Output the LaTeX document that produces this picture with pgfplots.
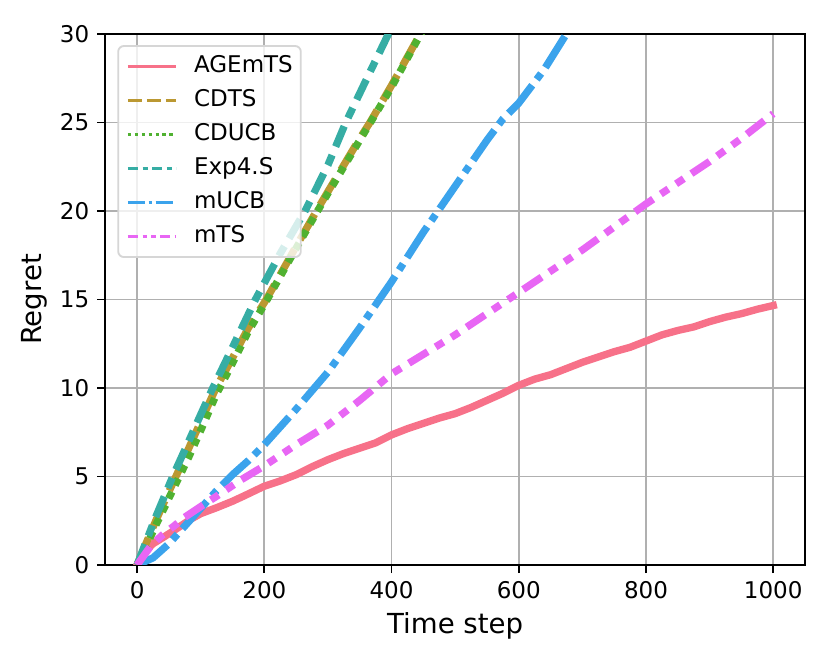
\documentclass[border=0pt]{standalone}
\usepackage{fontspec}
\setmainfont{DejaVu Sans}
\usepackage{pgfplots}
\pgfplotsset{compat=1.18}
\definecolor{c1}{HTML}{F77189}
\definecolor{c2}{HTML}{BB9832}
\definecolor{c3}{HTML}{50B131}
\definecolor{c4}{HTML}{36ADA4}
\definecolor{c5}{HTML}{3BA3EC}
\definecolor{c6}{HTML}{E866F4}
\definecolor{gridc}{HTML}{B0B0B0}
\begin{document}
\begin{tikzpicture}
\begin{axis}[
  name=ax,
  scale only axis,
  width=304.3pt, height=230.9pt,
  xmin=-50, xmax=1050, ymin=0, ymax=30,
  xtick={0,200,...,1000}, ytick={0,5,...,30},
  /pgf/number format/assume math mode=true,
  /pgf/number format/set thousands separator={},
  tick label style={font=\fontsize{10}{12}\selectfont},
  tick pos=left, tick align=outside, major tick length=3.5pt,
  tick style={black, line width=0.8pt},
  axis line style={line width=0.8pt},
  grid=major, major grid style={gridc, line width=0.8pt},
  xlabel={Time step}, ylabel={Regret},
  label style={font=\fontsize{12}{14}\selectfont},
  x label style={at={(axis description cs:0.5,0)}, anchor=base, yshift=-30pt},
  y label style={at={(axis description cs:0,0.5)}, anchor=center, yshift=30.8pt},
  legend style={at={(0,1)}, anchor=north west, xshift=5.2pt, yshift=-4.8pt,
    draw=black!16, line width=0.8pt, rounded corners=2.5pt,
    fill=white, fill opacity=0.8, text opacity=1, draw opacity=1,
    font=\fontsize{10}{12}\selectfont,
    inner xsep=3.5pt, inner ysep=1.5pt, row sep=0pt,
    nodes={inner xsep=0pt, inner ysep=2.4pt, text height=7.5pt, text depth=2.5pt},
    /tikz/every odd column/.append style={column sep=7pt}},
  legend cell align=left,
  legend image code/.code={\draw[#1] (0pt,0pt) -- (21pt,0pt);},
  every axis plot/.append style={line width=3.2pt, line join=round},
]
\addlegendimage{c1, line width=1.5pt, solid}
\addlegendentry{AGEmTS}
\addlegendimage{c2, line width=1.5pt, dash pattern=on 6pt off 2.25pt}
\addlegendentry{CDTS}
\addlegendimage{c3, line width=1.5pt, dash pattern=on 1.5pt off 1.5pt}
\addlegendentry{CDUCB}
\addlegendimage{c4, line width=1.5pt, dash pattern=on 4.5pt off 1.875pt on 2.25pt off 1.875pt}
\addlegendentry{Exp4.S}
\addlegendimage{c5, line width=1.5pt, dash pattern=on 7.5pt off 1.5pt on 1.5pt off 1.5pt}
\addlegendentry{mUCB}
\addlegendimage{c6, line width=1.5pt, dash pattern=on 4.5pt off 1.875pt on 1.875pt off 1.875pt on 1.875pt off 1.875pt}
\addlegendentry{mTS}

% AGEmTS
\addplot[c1, solid, line cap=rect, forget plot] coordinates {
(0,0) (10,0.65) (25,1.2) (43,1.6) (60,2.0) (85,2.6) (100,2.9) (126,3.25)
(150,3.6) (168,3.9) (200,4.45) (225,4.75) (250,5.1) (275,5.55) (300,5.95)
(325,6.3) (350,6.6) (375,6.9) (400,7.35) (425,7.7) (450,8.0) (475,8.3)
(500,8.55) (525,8.9) (550,9.3) (575,9.7) (600,10.15) (625,10.5) (650,10.75)
(675,11.1) (700,11.45) (725,11.75) (750,12.05) (775,12.3) (800,12.65)
(825,13.0) (850,13.25) (875,13.45) (900,13.75) (925,14.0) (950,14.2)
(975,14.45) (1000,14.66)
};
% CDTS
\addplot[c2, dash pattern=on 12.8pt off 4.8pt, forget plot] coordinates {
(0,0) (15,1.3) (30,2.55) (45,3.75) (61,5.0) (80,6.5) (100,8.1) (124,10.0)
(150,11.7) (175,13.4) (203,15.0) (250,18.0) (282,20.0) (300,21.1) (325,22.6)
(350,24.1) (366,25.0) (400,27.1) (445,30.0) (470,31.5)
};
% CDUCB
\addplot[c3, dash pattern=on 3.2pt off 3.2pt, forget plot] coordinates {
(0,0) (15,1.1) (30,2.3) (45,3.4) (61,4.6) (80,6.0) (100,7.6) (124,9.6)
(150,11.4) (175,13.2) (203,14.9) (250,17.9) (282,19.9) (300,21.0) (325,22.5)
(350,24.0) (366,24.95) (400,27.0) (445,29.95) (470,31.5)
};
% Exp4.S
\addplot[c4, dash pattern=on 9.6pt off 4pt on 4.8pt off 4pt, forget plot] coordinates {
(0,0) (15,1.4) (28,2.6) (56,5.0) (80,6.9) (100,8.5) (119,10.0) (150,12.3)
(186,15.0) (225,17.6) (264,20.0) (300,22.6) (328,25.0) (360,27.4) (395,30.0) (420,31.8)
};
% mUCB
\addplot[c5, dash pattern=on 16pt off 3.2pt on 3.2pt off 3.2pt, forget plot] coordinates {
(0,0) (25,0.4) (50,1.2) (75,2.2) (100,3.2) (125,4.2) (150,5.1) (175,5.9)
(200,6.8) (250,8.8) (300,10.9) (350,13.4) (400,16.0) (450,18.8) (500,21.4)
(550,24.0) (575,25.2) (600,26.1) (640,28.0) (680,30.3) (700,31.4)
};
% mTS
\addplot[c6, dash pattern=on 9.6pt off 4pt on 4pt off 4pt on 4pt off 4pt, forget plot] coordinates {
(0,0) (10,0.5) (22,1.1) (40,1.7) (58,2.2) (75,2.7) (100,3.3) (132,4.05)
(163,4.8) (200,5.6) (250,6.8) (300,7.9) (350,9.3) (400,10.8) (450,11.9)
(500,13.0) (550,14.2) (600,15.4) (650,16.6) (700,17.8) (750,19.1)
(800,20.4) (850,21.6) (900,22.8) (950,24.1) (1000,25.5)
};
\end{axis}
\pgfresetboundingbox
\path[use as bounding box] ([shift={(-45.8pt,-43pt)}]ax.south west) rectangle ([shift={(11.3pt,14.8pt)}]ax.north east);
\end{tikzpicture}
\end{document}
